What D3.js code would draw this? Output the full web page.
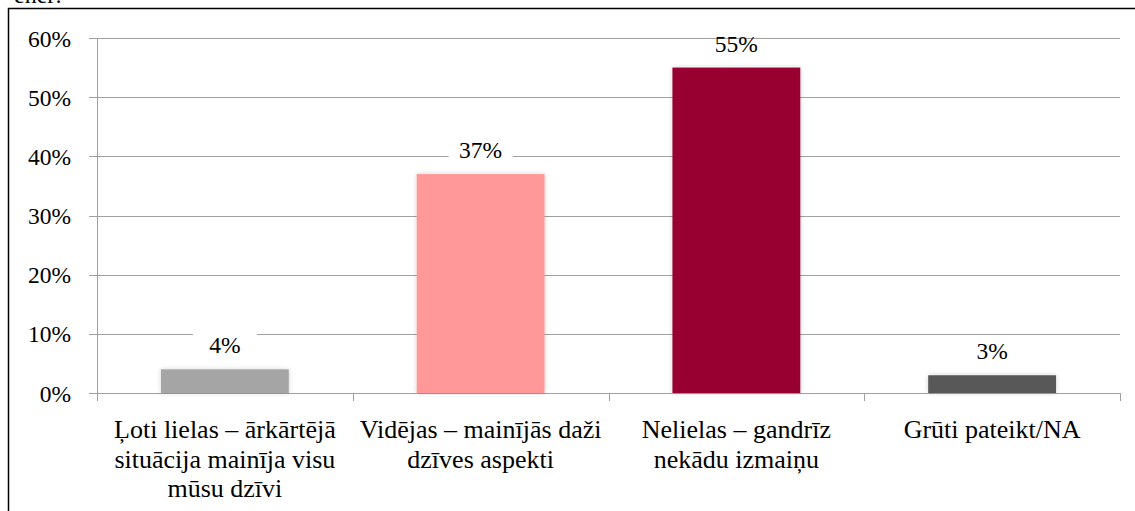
<!DOCTYPE html>
<html>
<head>
<meta charset="utf-8">
<script src="https://cdn.jsdelivr.net/npm/d3@7"></script>
<style>
  body { margin: 0; background: #fff; }
</style>
</head>
<body>
<script>
// chart data
const categories = [
  ['Ļoti lielas – ārkārtējā', 'situācija mainīja visu', 'mūsu dzīvi'],
  ['Vidējas – mainījās daži', 'dzīves aspekti'],
  ['Nelielas – gandrīz', 'nekādu izmaiņu'],
  ['Grūti pateikt/NA']
];
const values = [4, 37, 55, 3];
const barColors = ['#a5a5a5', '#ff9999', '#990033', '#595959'];
const yTicks = [0, 10, 20, 30, 40, 50, 60];

var width = 1135;
var height = 511;
var serif = 'Liberation Serif';

var svg = d3.select('body')
  .append('svg')
  .attr('width', width)
  .attr('height', height)
  .attr('font-family', serif);

// soft glow like the office chart shadow
var defs = svg.append('defs');
var glow = defs.append('filter')
  .attr('id', 'glow')
  .attr('x', '-20%').attr('y', '-20%')
  .attr('width', '140%').attr('height', '140%');
glow.append('feGaussianBlur')
  .attr('in', 'SourceAlpha')
  .attr('stdDeviation', 2.5)
  .attr('result', 'blur');
glow.append('feComponentTransfer')
  .attr('in', 'blur')
  .attr('result', 'faded')
  .append('feFuncA').attr('type', 'linear').attr('slope', 0.18);
var merge = glow.append('feMerge');
merge.append('feMergeNode').attr('in', 'faded');
merge.append('feMergeNode').attr('in', 'SourceGraphic');

// cut-off text from the document above the chart
svg.append('text')
  .attr('x', 62)
  .attr('y', 3)
  .attr('text-anchor', 'end')
  .attr('font-size', 24)
  .text('ener:');

// chart border
svg.append('rect')
  .attr('x', 8.5)
  .attr('y', 8.5)
  .attr('width', width + 10)
  .attr('height', height + 10)
  .attr('fill', 'none')
  .attr('stroke', '#000')
  .attr('stroke-width', 1.5);

var x = d3.scaleBand()
  .domain(d3.range(categories.length))
  .range([97, 1120])
  .paddingInner(0.5)
  .paddingOuter(0.25);

var y = d3.scaleLinear()
  .domain([0, 60])
  .range([393, 38]);

var axisColor = '#a0a0a0';

// gridlines (with outer tick on the left)
svg.append('g')
  .selectAll('line')
  .data(yTicks)
  .join('line')
  .attr('x1', 89)
  .attr('x2', 1120)
  .attr('y1', d => Math.round(y(d)) + 0.5)
  .attr('y2', d => Math.round(y(d)) + 0.5)
  .attr('stroke', axisColor)
  .attr('stroke-width', 1);

// y axis line
svg.append('line')
  .attr('x1', 97.5).attr('x2', 97.5)
  .attr('y1', y(60)).attr('y2', y(0))
  .attr('stroke', axisColor);

// x tick marks at category boundaries
var step = x.step();
var boundaries = d3.range(categories.length + 1).map(i => 97 + i * step);
svg.append('g')
  .selectAll('line')
  .data(boundaries)
  .join('line')
  .attr('x1', d => Math.round(d) + 0.5)
  .attr('x2', d => Math.round(d) + 0.5)
  .attr('y1', y(0))
  .attr('y2', y(0) + 8)
  .attr('stroke', axisColor);

// y tick labels
svg.append('g')
  .selectAll('text')
  .data(yTicks)
  .join('text')
  .attr('x', 71)
  .attr('y', d => y(d) + 8.5)
  .attr('text-anchor', 'end')
  .attr('font-size', 23.5)
  .text(d => d + '%');

// bars
svg.append('g')
  .selectAll('rect')
  .data(values)
  .join('rect')
  .attr('x', (d, i) => x(i))
  .attr('y', d => y(d))
  .attr('width', x.bandwidth())
  .attr('height', d => y(0) - y(d))
  .attr('fill', (d, i) => barColors[i])
  .attr('filter', 'url(#glow)');

// value labels, white box only inside the plot area
var labels = svg.append('g')
  .selectAll('g')
  .data(values)
  .join('g')
  .attr('transform', (d, i) => 'translate(' + (x(i) + x.bandwidth() / 2) + ',' + (y(d) - 16) + ')');

labels.filter(d => y(d) - 16 - 20 > y(60))
  .append('rect')
  .attr('x', -32)
  .attr('y', -20)
  .attr('width', 64)
  .attr('height', 26)
  .attr('fill', '#fff');

labels.append('text')
  .attr('text-anchor', 'middle')
  .attr('font-size', 23.5)
  .text(d => d + '%');

// category labels
var cat = svg.append('g')
  .selectAll('text')
  .data(categories)
  .join('text')
  .attr('x', (d, i) => x(i) + x.bandwidth() / 2)
  .attr('y', 438)
  .attr('text-anchor', 'middle')
  .attr('font-size', 26);

cat.selectAll('tspan')
  .data(d => d)
  .join('tspan')
  .attr('x', function () { return d3.select(this.parentNode).attr('x'); })
  .attr('dy', (d, i) => i === 0 ? 0 : 29.5)
  .text(d => d);
</script>
</body>
</html>
